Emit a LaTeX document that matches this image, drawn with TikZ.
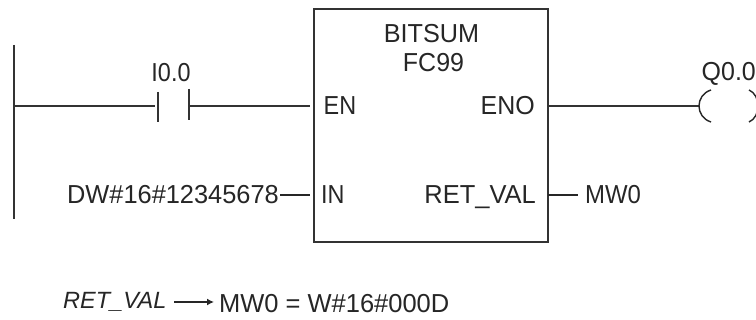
\documentclass[tikz,border=0pt]{standalone}
\usepackage{fontspec}
\usetikzlibrary{arrows.meta}
\setmainfont{Liberation Sans}
\newcommand\sxtxt[2]{\scalebox{#1}[1]{#2}}
\begin{document}
\begin{tikzpicture}[x=1pt,y=-1pt,
  wire/.style={line width=1.9pt,draw=black!80},
  thin wire/.style={line width=1.4pt,draw=black!85},
  lbl/.style={inner sep=0pt,font=\fontsize{26}{30}\selectfont,text=black!85},
  ilbl/.style={inner sep=0pt,font=\fontsize{23.5}{28}\selectfont\itshape,text=black!85}]
\useasboundingbox (0,0) rectangle (756,320);
\fill[white] (0,0) rectangle (756,320);
\coordinate (railT) at (13.7,45);
\coordinate (railB) at (13.7,219);
\coordinate (railM) at (13.7,106);
\draw[wire] (railT) -- (railB);
\node[draw=black!80,line width=1.9pt,outer sep=0pt,minimum width=234pt,minimum height=232.7pt,inner sep=0pt,anchor=north west] (fb) at (313.7,9) {};
\coordinate (c1t) at (158,92); \coordinate (c1b) at (158,122); \coordinate (c1m) at (155,106);
\coordinate (c2t) at (189,89); \coordinate (c2b) at (189,120); \coordinate (c2m) at (189,106);
\coordinate (enL) at (310,106);
\draw[wire] (railM) -- (c1m);
\draw[wire] (c1t) -- (c1b);
\draw[wire] (c2t) -- (c2b);
\draw[wire] (c2m) -- (enL);
\coordinate (enoR) at (547.7,106);
\coordinate (coilL) at (699,106);
\draw[wire] (enoR) -- (coilL);
\coordinate (inA) at (280,195); \coordinate (inB) at (310,195);
\draw[thin wire] (inA) -- (inB);
\coordinate (rvA) at (548,195); \coordinate (rvB) at (578,195);
\draw[thin wire] (rvA) -- (rvB);
\coordinate (ca) at (711,90); \coordinate (cb) at (711,122);
\draw[thin wire] (ca) .. controls (695,95) and (695,117) .. (cb);
\coordinate (da) at (749,90); \coordinate (db) at (749,122);
\draw[thin wire] (da) .. controls (761,95) and (761,117) .. (db);
\node[lbl,anchor=base] (bit) at (431.5,43) {\sxtxt{.97}{BITSUM}};
\node[lbl,anchor=base] (fc) at (433.5,72) {\sxtxt{.96}{FC99}};
\node[lbl,anchor=base] (i0) at (171,82) {\sxtxt{.9}{I0.0}};
\node[lbl,anchor=base west] (q0) at (701.5,80.5) {\sxtxt{.96}{Q0.0}};
\node[lbl,anchor=base west] (en) at (323.5,115) {\sxtxt{.9}{EN}};
\node[lbl,anchor=base east] (eno) at (535,115) {\sxtxt{.96}{ENO}};
\node[lbl,anchor=base west] (in) at (321,204) {\sxtxt{.9}{IN}};
\node[lbl,anchor=base east] (rv) at (536,204) {\sxtxt{.98}{RET\_VAL}};
\node[lbl,anchor=base west] (mw) at (585,204) {\sxtxt{.92}{MW0}};
\node[lbl,anchor=base east] (dw) at (279,204) {\sxtxt{.976}{DW\#16\#12345678}};
\node[ilbl,anchor=base west] (rv2) at (63,309) {RET\_VAL};
\node[lbl,anchor=base west] (eq) at (219,313) {\sxtxt{.98}{MW0 = W\#16\#000D}};
\coordinate (arA) at (174,302); \coordinate (arB) at (214,302);
\draw[thin wire,-{Latex[length=7pt,width=7pt]}] (arA) -- (arB);
\end{tikzpicture}
\end{document}
